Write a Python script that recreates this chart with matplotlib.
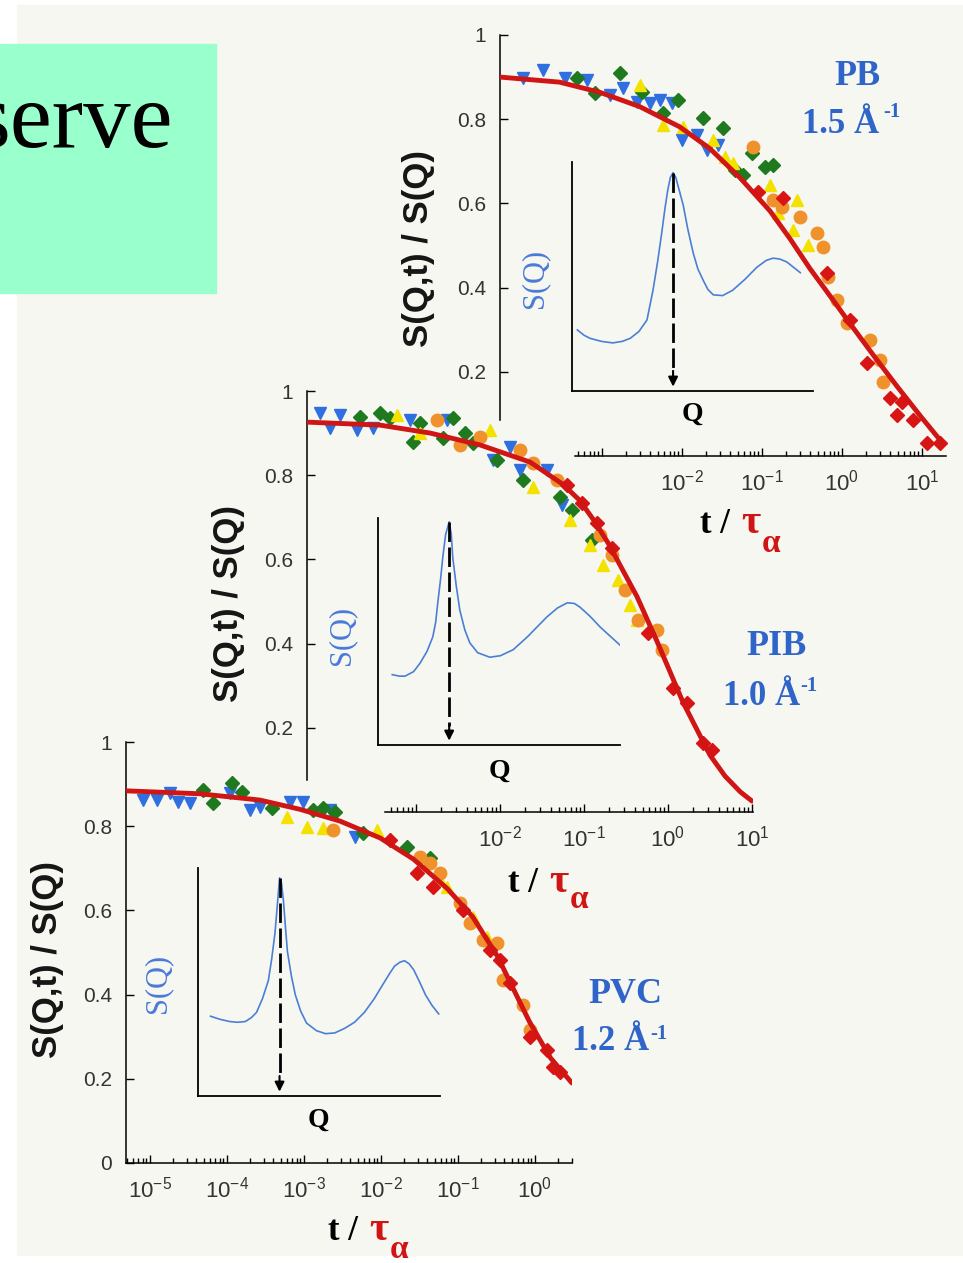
import matplotlib
matplotlib.use("Agg")
import matplotlib.pyplot as plt
from matplotlib.patches import Rectangle
from matplotlib.ticker import FixedLocator, FixedFormatter, NullFormatter
import numpy as np

plt.rcParams['font.family'] = ['Liberation Sans', 'DejaVu Sans']

W, H = 963, 1263

# ---- PB 1.5 A-1 (top panel), log10(t/tau) and S(Q,t)/S(Q) ----
pb_fit_logt = [-4.27, -3.53, -3.03, -2.53, -2.03, -1.65, -1.28, -0.90, -0.65, -0.40, -0.11, 0.06, 0.39, 0.69, 0.98, 1.26]
pb_fit_y = [0.900, 0.888, 0.864, 0.830, 0.782, 0.730, 0.662, 0.582, 0.516, 0.445, 0.370, 0.325, 0.240, 0.165, 0.095, 0.030]
pb_blue_logt = [-3.99, -3.74, -3.46, -3.19, -2.90, -2.74, -2.56, -2.40, -2.28, -2.13, -2.00, -1.81, -1.69, -1.55]
pb_blue_y = [0.898, 0.917, 0.898, 0.893, 0.857, 0.874, 0.841, 0.838, 0.846, 0.838, 0.750, 0.762, 0.727, 0.739]
pb_green_logt = [-3.31, -3.09, -2.78, -2.50, -2.24, -2.05, -1.74, -1.49, -1.13, -1.34, -1.24, -0.96, -0.86]
pb_green_y = [0.898, 0.862, 0.910, 0.865, 0.815, 0.846, 0.803, 0.779, 0.720, 0.679, 0.667, 0.686, 0.691]
pb_yellow_logt = [-2.53, -2.24, -1.99, -1.61, -1.46, -1.36, -0.90, -0.80, -0.56, -0.61, -0.43]
pb_yellow_y = [0.881, 0.786, 0.781, 0.751, 0.710, 0.696, 0.644, 0.577, 0.608, 0.537, 0.501]
pb_orange_logt = [-1.11, -0.86, -0.75, -0.53, -0.31, -0.24, -0.18, -0.06, 0.06, 0.35, 0.48, 0.51]
pb_orange_y = [0.734, 0.608, 0.591, 0.568, 0.530, 0.496, 0.425, 0.371, 0.316, 0.276, 0.228, 0.176]
pb_red_logt = [-1.05, -0.74, -0.19, 0.10, 0.31, 0.60, 0.75, 0.69, 0.89, 1.06, 1.23]
pb_red_y = [0.627, 0.613, 0.435, 0.323, 0.221, 0.138, 0.128, 0.097, 0.086, 0.031, 0.031]
pb_q = [0.08, 0.18, 0.27, 0.44, 0.61, 0.75, 0.87, 1.00, 1.12, 1.21, 1.28, 1.34, 1.39, 1.43, 1.47, 1.51,
        1.55, 1.58, 1.66, 1.73, 1.81, 1.88, 1.96, 2.03, 2.11, 2.25, 2.40, 2.58, 2.76, 2.90, 3.00, 3.10,
        3.21, 3.31, 3.41]
pb_s = [0.80, 0.73, 0.69, 0.65, 0.63, 0.65, 0.69, 0.78, 0.93, 1.32, 1.70, 2.07, 2.40, 2.63, 2.80, 2.86,
        2.80, 2.70, 2.44, 2.12, 1.81, 1.60, 1.45, 1.33, 1.26, 1.25, 1.32, 1.46, 1.62, 1.71, 1.74, 1.73,
        1.69, 1.62, 1.55]

# ---- PIB 1.0 A-1 (middle panel) ----
pib_fit_logt = [-4.29, -3.43, -2.83, -2.24, -1.64, -1.25, -1.05, -0.88, -0.71, -0.37, -0.13, 0.18, 0.50, 0.68, 0.86, 1.00]
pib_fit_y = [0.926, 0.919, 0.900, 0.872, 0.831, 0.778, 0.740, 0.692, 0.638, 0.512, 0.405, 0.260, 0.135, 0.085, 0.048, 0.026]
pib_blue_logt = [-4.14, -4.02, -3.90, -3.70, -3.51, -3.07, -2.63, -2.08, -1.88, -1.76, -1.44, -1.26]
pib_blue_y = [0.948, 0.912, 0.943, 0.907, 0.912, 0.931, 0.931, 0.836, 0.867, 0.812, 0.812, 0.729]
pib_green_logt = [-3.67, -3.43, -3.31, -3.04, -2.95, -2.68, -2.56, -2.42, -2.32, -2.04, -1.73, -1.29, -1.14, -0.90]
pib_green_y = [0.938, 0.948, 0.936, 0.879, 0.924, 0.888, 0.936, 0.900, 0.876, 0.836, 0.789, 0.748, 0.717, 0.646]
pib_yellow_logt = [-3.23, -2.95, -2.12, -1.61, -1.17, -0.93, -0.77, -0.60, -0.45, -0.37]
pib_yellow_y = [0.943, 0.900, 0.907, 0.772, 0.694, 0.634, 0.587, 0.551, 0.492, 0.456]
pib_orange_logt = [-2.75, -2.48, -2.24, -1.76, -1.61, -1.32, -0.81, -0.67, -0.51, -0.36, -0.13, -0.07]
pib_orange_y = [0.931, 0.872, 0.891, 0.860, 0.829, 0.789, 0.658, 0.610, 0.527, 0.456, 0.432, 0.385]
pib_red_logt = [-1.20, -1.02, -0.85, -0.67, -0.24, 0.06, 0.23, 0.42, 0.52]
pib_red_y = [0.777, 0.734, 0.686, 0.627, 0.425, 0.295, 0.259, 0.164, 0.147]
pib_q = [0.20, 0.30, 0.38, 0.50, 0.59, 0.69, 0.77, 0.81, 0.84, 0.88, 0.91, 0.95, 1.00, 1.03, 1.05, 1.10,
         1.15, 1.22, 1.29, 1.40, 1.57, 1.72, 1.90, 2.10, 2.37, 2.52, 2.66, 2.76, 2.84, 2.98, 3.12, 3.26, 3.40]
pib_s = [0.93, 0.91, 0.91, 0.97, 1.08, 1.24, 1.43, 1.62, 1.88, 2.20, 2.48, 2.78, 2.95, 2.78, 2.48, 2.10,
         1.78, 1.52, 1.35, 1.22, 1.16, 1.18, 1.26, 1.43, 1.69, 1.81, 1.88, 1.87, 1.82, 1.70, 1.56, 1.44, 1.32]

# ---- PVC 1.2 A-1 (bottom panel) ----
pvc_fit_logt = [-5.31, -4.35, -3.57, -3.05, -2.53, -2.01, -1.58, -1.14, -0.81, -0.49, -0.33, -0.07, 0.20, 0.48]
pvc_fit_y = [0.884, 0.877, 0.862, 0.840, 0.812, 0.772, 0.722, 0.652, 0.585, 0.492, 0.432, 0.335, 0.250, 0.190]
pvc_blue_logt = [-5.09, -4.91, -4.74, -4.64, -4.48, -3.96, -3.70, -3.57, -3.18, -3.01, -2.66, -2.34]
pvc_blue_y = [0.862, 0.862, 0.879, 0.857, 0.855, 0.879, 0.838, 0.846, 0.857, 0.857, 0.838, 0.774]
pvc_green_logt = [-4.31, -4.18, -3.94, -3.81, -3.42, -2.88, -2.75, -2.60, -2.23, -1.66, -1.36]
pvc_green_y = [0.886, 0.855, 0.903, 0.881, 0.843, 0.838, 0.843, 0.834, 0.784, 0.751, 0.724]
pvc_yellow_logt = [-3.22, -2.96, -2.75, -2.05, -1.23, -1.14, -0.81, -0.62]
pvc_yellow_y = [0.822, 0.798, 0.796, 0.791, 0.672, 0.656, 0.584, 0.537]
pvc_orange_logt = [-2.62, -1.49, -1.36, -1.23, -0.97, -0.84, -0.68, -0.49, -0.42, -0.16, -0.06]
pvc_orange_y = [0.791, 0.727, 0.713, 0.689, 0.618, 0.570, 0.530, 0.523, 0.435, 0.375, 0.316]
pvc_red_logt = [-1.88, -1.53, -1.32, -0.94, -0.58, -0.45, -0.33, -0.07, 0.16, 0.23, 0.33]
pvc_red_y = [0.767, 0.689, 0.656, 0.601, 0.506, 0.482, 0.428, 0.299, 0.268, 0.228, 0.216]
pvc_q = [0.19, 0.33, 0.48, 0.60, 0.72, 0.81, 0.89, 0.98, 1.07, 1.12, 1.17, 1.21, 1.24, 1.27, 1.30, 1.33,
         1.36, 1.42, 1.48, 1.56, 1.65, 1.80, 1.94, 2.08, 2.23, 2.38, 2.53, 2.68, 2.82, 2.92, 2.99, 3.07,
         3.14, 3.21, 3.28, 3.37, 3.46, 3.56, 3.66]
pvc_s = [1.05, 1.01, 0.98, 0.97, 0.98, 1.03, 1.10, 1.28, 1.52, 1.80, 2.14, 2.55, 2.87, 2.80, 2.56, 2.22,
         1.90, 1.58, 1.33, 1.12, 0.96, 0.86, 0.82, 0.83, 0.89, 0.97, 1.10, 1.28, 1.48, 1.62, 1.71, 1.76,
         1.78, 1.74, 1.66, 1.50, 1.33, 1.19, 1.08]

RED = '#d01515'
BLUE_TXT = '#2f64c8'
BLUE_SQ = '#4a7ad8'
STYLE = {
    'blue': dict(marker='v', ms=9, color='#2f6fe0'),
    'green': dict(marker='D', ms=7, color='#1f7a1f'),
    'yellow': dict(marker='^', ms=9, color='#f3e200'),
    'orange': dict(marker='o', ms=9, color='#f0922c'),
    'red': dict(marker='D', ms=7, color='#d81414'),
}

fig = plt.figure(figsize=(W / 100, H / 100), dpi=100)
fig.patches.append(Rectangle((17 / W, 1 - 1255 / H), (W - 17) / W, 1250 / H,
                             transform=fig.transFigure, color='#f7f7f2', zorder=-10))
fig.patches.append(Rectangle((0, 1 - 293 / H), 216 / W, 249 / H,
                             transform=fig.transFigure, color='#99ffcc', zorder=-5))


def px_box(x0, y0, x1, y1):
    return [x0 / W, 1 - y1 / H, (x1 - x0) / W, (y1 - y0) / H]


def ftext(x, y, s, **kw):
    fig.text(x / W, 1 - y / H, s, **kw)


# slide title, cut by the left edge of the slide
fig.text(173 / W, 1 - 147 / H, 'serve', fontsize=68, family='Liberation Serif',
         ha='right', va='baseline', color='black')


def draw_panel(box, xlim, xspan, ybottom, fit_logt, fit_y, series, majors, labelled, yticks, ylabels):
    ax = fig.add_axes(px_box(*box))
    ax.set_facecolor('none')
    ax.set_xscale('log')
    ax.set_xlim(10.0 ** xlim[0], 10.0 ** xlim[1])
    ax.set_ylim(0, 1)
    for name, logt, y in series:
        ax.plot(10.0 ** np.array(logt), y, linestyle='none', clip_on=False, **STYLE[name])
    ax.plot(10.0 ** np.array(fit_logt), fit_y, color=RED, lw=3.5,
            solid_capstyle='round', solid_joinstyle='round', zorder=5)

    lo, hi = 10.0 ** xspan[0], 10.0 ** xspan[1]
    minor = [k * 10.0 ** n for n in range(-6, 2) for k in range(2, 10) if lo <= k * 10.0 ** n <= hi]
    ax.xaxis.set_major_locator(FixedLocator([10.0 ** n for n in majors]))
    ax.xaxis.set_minor_locator(FixedLocator(minor))
    ax.xaxis.set_major_formatter(FixedFormatter(
        [r'$\mathregular{10^{%d}}$' % n if n in labelled else '' for n in majors]))
    ax.xaxis.set_minor_formatter(NullFormatter())
    ax.yaxis.set_major_locator(FixedLocator(yticks))
    ax.yaxis.set_major_formatter(FixedFormatter(ylabels))
    ax.yaxis.set_minor_locator(FixedLocator([]))

    for side in ('top', 'right'):
        ax.spines[side].set_visible(False)
    ax.spines['left'].set_bounds(ybottom, 1)
    ax.spines['bottom'].set_bounds(lo, hi)
    for side in ('left', 'bottom'):
        ax.spines[side].set_linewidth(1.1)
    ax.tick_params(which='both', direction='in', width=1, pad=10, labelcolor='#333333')
    ax.tick_params(which='major', length=6)
    ax.tick_params(which='minor', length=3.5)
    ax.tick_params(axis='x', labelsize=16)
    ax.tick_params(axis='y', labelsize=15)
    return ax


def draw_inset(box, qmax, q, s):
    ax = fig.add_axes(px_box(*box))
    ax.set_facecolor('none')
    ax.plot(q, s, color='#4a7fd4', lw=1.2)
    ax.set_xlim(0, qmax)
    ax.set_ylim(0, 3)
    for side in ('top', 'right'):
        ax.spines[side].set_visible(False)
    for side in ('left', 'bottom'):
        ax.spines[side].set_linewidth(1.3)
    ax.set_xticks([])
    ax.set_yticks([])
    i = int(np.argmax(s))
    ax.plot([q[i], q[i]], [s[i], 0.25], color='black', lw=2, linestyle=(0, (7, 2)))
    ax.annotate('', xy=(q[i], 0.02), xytext=(q[i], 0.3),
                arrowprops=dict(arrowstyle='-|>', color='black', lw=1.5, mutation_scale=14))
    return ax


def labels(ylab_xy, sq_xy, q_xy, x_t, base_t, base_a, name, name_xy, wave, wave_xy, sup_xy):
    ftext(*ylab_xy, 'S(Q,t) / S(Q)', fontsize=25, family=['Liberation Sans Narrow', 'Liberation Sans'],
          weight='bold', rotation=90, ha='center', va='center', color='#151515')
    ftext(*sq_xy, 'S(Q)', fontsize=22, family='Liberation Serif', rotation=90,
          ha='center', va='center', color=BLUE_SQ)
    ftext(*q_xy, 'Q', fontsize=20, family='Liberation Serif', weight='bold', ha='center', va='center')
    ftext(x_t, base_t, 't /', fontsize=25, family='Liberation Serif', weight='bold', va='baseline')
    ftext(x_t + 41, base_t, 'τ', fontsize=30, family='Liberation Serif', weight='bold',
          va='baseline', color=RED)
    ftext(x_t + 62, base_a, 'α', fontsize=24, family='Liberation Serif', weight='bold',
          va='baseline', color=RED)
    ftext(*name_xy, name, fontsize=26, family='Liberation Serif', weight='bold',
          ha='center', va='baseline', color=BLUE_TXT)
    ftext(*wave_xy, wave, fontsize=25, family='Liberation Serif', weight='bold',
          va='baseline', color=BLUE_TXT)
    ftext(*sup_xy, '-1', fontsize=15, family='Liberation Serif', weight='bold',
          va='top', color=BLUE_TXT)


# top panel: PB
draw_panel((500, 35, 946, 456), (-4.275, 1.30), (-3.34, 1.30), 0.086,
           pb_fit_logt, pb_fit_y,
           [('blue', pb_blue_logt, pb_blue_y), ('green', pb_green_logt, pb_green_y),
            ('yellow', pb_yellow_logt, pb_yellow_y), ('orange', pb_orange_logt, pb_orange_y),
            ('red', pb_red_logt, pb_red_y)],
           [-3, -2, -1, 0, 1], [-2, -1, 0, 1],
           [0.2, 0.4, 0.6, 0.8, 1.0], ['0.2', '0.4', '0.6', '0.8', '1'])
draw_inset((572, 162, 813, 391), 3.6, pb_q, pb_s)
labels((418, 248), (535, 278), (692, 414), 700, 533, 552,
       'PB', (857, 85), '1.5 Å', (802, 133), (883, 102))

# middle panel: PIB
draw_panel((307, 391, 753, 812), (-4.298, 1.012), (-3.37, 1.012), 0.076,
           pib_fit_logt, pib_fit_y,
           [('blue', pib_blue_logt, pib_blue_y), ('green', pib_green_logt, pib_green_y),
            ('yellow', pib_yellow_logt, pib_yellow_y), ('orange', pib_orange_logt, pib_orange_y),
            ('red', pib_red_logt, pib_red_y)],
           [-3, -2, -1, 0, 1], [-2, -1, 0, 1],
           [0.2, 0.4, 0.6, 0.8, 1.0], ['0.2', '0.4', '0.6', '0.8', '1'])
draw_inset((378, 518, 620, 745), 3.4, pib_q, pib_s)
labels((228, 603), (342, 635), (499, 771), 508, 892, 908,
       'PIB', (776, 655), '1.0 Å', (723, 705), (800, 676))

# bottom panel: PVC
draw_panel((126, 742, 572, 1163), (-5.312, 0.481), (-5.312, 0.481), 0.0,
           pvc_fit_logt, pvc_fit_y,
           [('blue', pvc_blue_logt, pvc_blue_y), ('green', pvc_green_logt, pvc_green_y),
            ('yellow', pvc_yellow_logt, pvc_yellow_y), ('orange', pvc_orange_logt, pvc_orange_y),
            ('red', pvc_red_logt, pvc_red_y)],
           [-5, -4, -3, -2, -1, 0], [-5, -4, -3, -2, -1, 0],
           [0.0, 0.2, 0.4, 0.6, 0.8, 1.0], ['0', '0.2', '0.4', '0.6', '0.8', '1'])
draw_inset((198, 868, 440, 1096), 3.68, pvc_q, pvc_s)
labels((47, 960), (158, 983), (318, 1120), 328, 1240, 1258,
       'PVC', (625, 1003), '1.2 Å', (572, 1050), (650, 1024))

fig.savefig('out.png', dpi=100)
